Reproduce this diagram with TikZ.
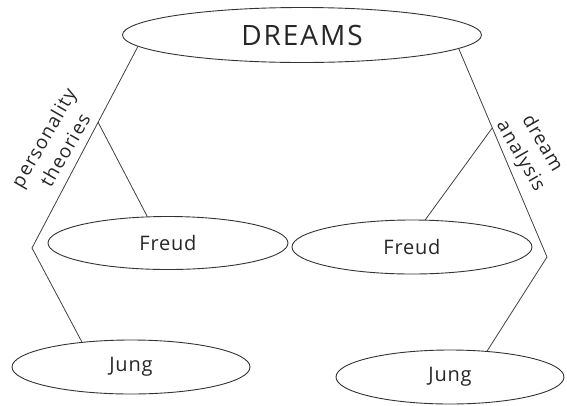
\documentclass[tikz,border=0pt]{standalone}
\usepackage{fontspec}
\setmainfont{Open Sans}
\usetikzlibrary{shapes.geometric,calc}
\begin{document}
\begin{tikzpicture}[x=1pt,y=-1pt,
  oval/.style={ellipse, draw=black!80, line width=0.9pt, inner sep=0pt,
    minimum width=240pt, minimum height=53pt, font=\fontsize{20}{22}\selectfont\addfontfeature{LetterSpace=4}, text=black!85},
  link/.style={draw=black!75, line width=0.8pt},
  lbl/.style={font=\fontsize{19}{25}\selectfont\addfontfeature{LetterSpace=6}, align=center, inner sep=0pt, text=black!85}]
\useasboundingbox (0,0) rectangle (567,405);
\node[oval, minimum width=359pt, minimum height=55pt, font=\fontsize{28}{30}\selectfont\addfontfeature{LetterSpace=7}] (dreams) at (302,35) {DREAMS};
\node[oval] (freudL) at (168,243) {Freud};
\node[oval, minimum width=238pt, minimum height=54pt] (jungL) at (131,367) {Jung};
\node[oval, minimum height=54pt] (freudR) at (412,247) {Freud};
\node[oval, minimum width=228pt, minimum height=54pt] (jungR) at (450,377) {Jung};
\coordinate (vL) at (32,248);
\coordinate (vR) at (547,257);
\coordinate (bL) at ($(dreams.184)!0.376!(vL)$);
\coordinate (bR) at ($(dreams.355)!0.38!(vR)$);
\draw[link] (dreams.184) -- (vL) -- (jungL.153);
\draw[link] (dreams.355) -- (vR) -- (jungR.35);
\draw[link] (bL) -- (freudL.128);
\draw[link] (bR) -- (freudR.64);
\node[lbl, rotate=60] (pt) at (54,144) {personality\\theories};
\node[lbl, rotate=-60] (da) at (531,150) {dream\\analysis};
\end{tikzpicture}
\end{document}
